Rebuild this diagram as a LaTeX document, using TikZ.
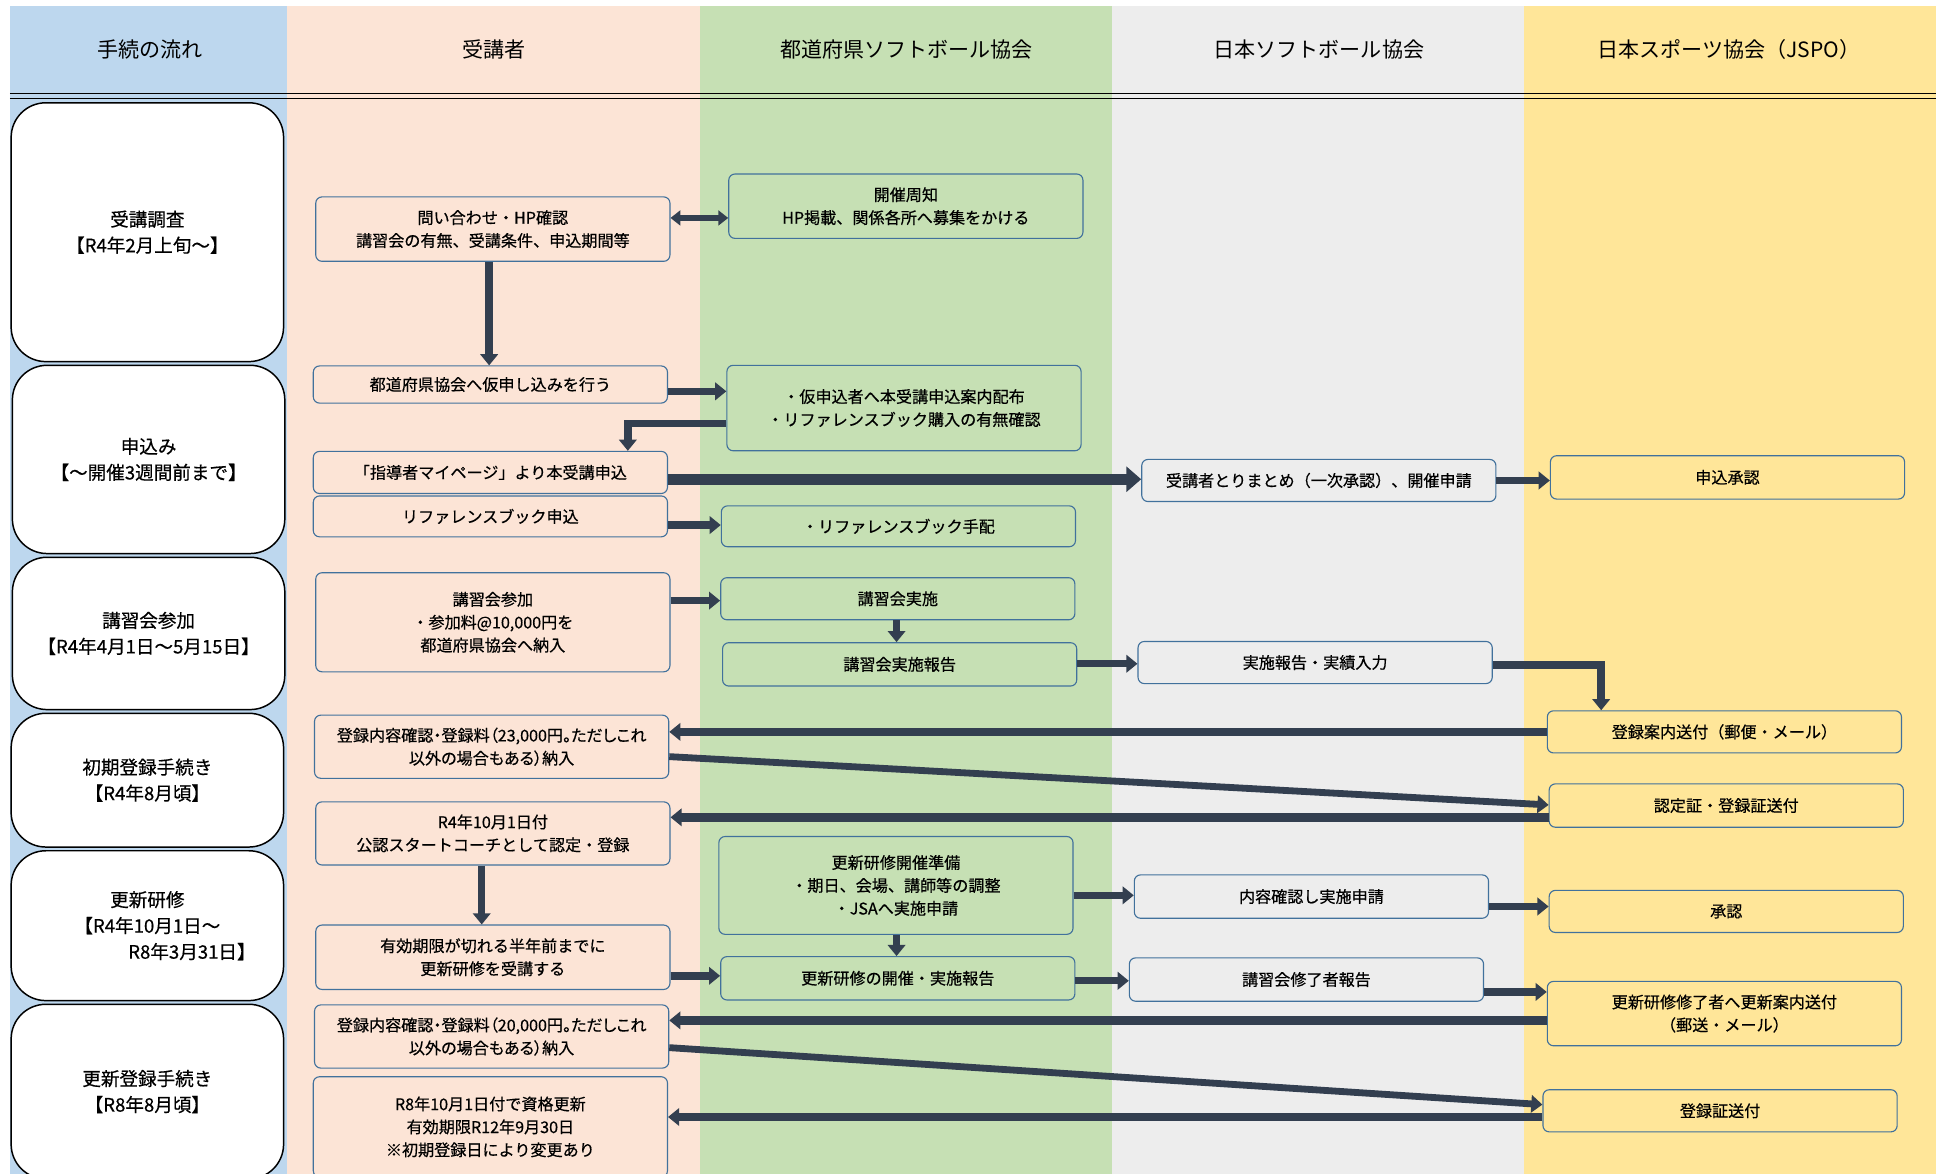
\documentclass[tikz,border=0pt]{standalone}
\usepackage{fontspec}
\setmainfont{Noto Sans CJK JP}
\newfontfamily\boxfont{Noto Sans CJK JP}[FakeBold=0.5]
\newfontfamily\narrowfont{Noto Sans CJK JP}[FakeBold=0.5,RawFeature=+palt]
\usetikzlibrary{arrows.meta}
\definecolor{lanebl}{HTML}{BDD7EE}
\definecolor{lanepk}{HTML}{FCE4D6}
\definecolor{lanegr}{HTML}{C6E0B4}
\definecolor{lanegy}{HTML}{EDEDED}
\definecolor{laneyl}{HTML}{FFE699}
\definecolor{boxblue}{HTML}{41719C}
\definecolor{arrnavy}{HTML}{333F50}
\begin{document}
\begin{tikzpicture}[x=1pt,y=-1pt,
  hdr/.style={font=\fontsize{17}{20}\selectfont},
  phase/.style={draw=black,line width=1.2pt,fill=white,rounded corners=28pt,
    align=center,inner sep=0pt,minimum width=220,font=\boxfont\fontsize{15}{21}\selectfont},
  stepbox/.style={draw=boxblue,line width=0.9pt,rounded corners=5pt,
    align=center,inner sep=0pt,minimum width=286,font=\boxfont\fontsize{13}{18.5}\selectfont},
  arr/.style={draw=arrnavy,line width=6pt,-{Triangle[width=14pt,length=9pt]}},
]
  \useasboundingbox (0,0) rectangle (1565,948);
  % lanes
  \fill[lanebl] (8,5) rectangle (232,948);
  \fill[lanepk] (232,5) rectangle (565,948);
  \fill[lanegr] (565,5) rectangle (898,948);
  \fill[lanegy] (898,5) rectangle (1231,948);
  \fill[laneyl] (1231,5) rectangle (1563,948);
  \draw[line width=1.3pt] (8,75.5) -- (1563,75.5);
  \draw[line width=1.3pt] (8,79.5) -- (1563,79.5);

  \node[hdr] (hd1) at (121,40) {手続の流れ};
  \node[hdr] (hd2) at (399,40) {受講者};
  \node[hdr] (hd3) at (732,40) {都道府県ソフトボール協会};
  \node[hdr] (hd4) at (1065,40) {日本ソフトボール協会};
  \node[hdr] (hd5) at (1396,40) {日本スポーツ協会（JSPO）};

  % phases
  \node[phase,minimum height=209] (ph1) at (119,187.5) {受講調査\\【R4年2月上旬～】};
  \node[phase,minimum height=152] (ph2) at (120,371) {申込み\\【～開催3週間前まで】};
  \node[phase,minimum height=123] (ph3) at (120,511.5) {講習会参加\\【R4年4月1日～5月15日】};
  \node[phase,minimum height=108] (ph4) at (119,630) {初期登録手続き\\【R4年8月頃】};
  \node[phase,minimum height=121] (ph5) at (119,747.5) {更新研修\\【R4年10月1日～\hspace*{60pt}\\\hspace*{72pt}R8年3月31日】};
  \node[phase,minimum height=141] (ph6) at (119,881.5) {更新登録手続き\\【R8年8月頃】};

  % 受講者
  \node[stepbox,minimum height=52] (inquiry) at (398,185) {問い合わせ・HP確認\\講習会の有無、受講条件、申込期間等};
  \node[stepbox,minimum height=30] (prereg) at (396,310.5) {都道府県協会へ仮申し込みを行う};
  \node[stepbox,minimum height=34] (mypage) at (396,381.5) {「指導者マイページ」より本受講申込};
  \node[stepbox,minimum height=33] (refapp) at (396,417) {リファレンスブック申込};
  \node[stepbox,minimum height=80] (attend) at (398,502.5) {講習会参加\\・参加料@10,000円を\\都道府県協会へ納入};
  \node[stepbox,minimum height=51,font=\narrowfont\fontsize{13}{18.5}\selectfont] (regpay) at (397,603) {登録内容確認・登録料（23,000円。ただしこれ\\以外の場合もある）納入};
  \node[stepbox,minimum height=51] (certdate) at (398,673) {R4年10月1日付\\公認スタートコーチとして認定・登録};
  \node[stepbox,minimum height=52] (renewtake) at (398,773) {有効期限が切れる半年前までに\\更新研修を受講する};
  \node[stepbox,minimum height=51,font=\narrowfont\fontsize{13}{18.5}\selectfont] (renewpay) at (397,837) {登録内容確認・登録料（20,000円。ただしこれ\\以外の場合もある）納入};
  \node[stepbox,minimum height=81] (renewed) at (396,910) {R8年10月1日付で資格更新\\有効期限R12年9月30日\\※初期登録日により変更あり};

  % 都道府県ソフトボール協会
  \node[stepbox,minimum height=52] (notice) at (731.5,166.5) {開催周知\\HP掲載、関係各所へ募集をかける};
  \node[stepbox,minimum height=69] (guide) at (730,329.5) {・仮申込者へ本受講申込案内配布\\・リファレンスブック購入の有無確認};
  \node[stepbox,minimum height=33] (refarr) at (725.5,425) {・リファレンスブック手配};
  \node[stepbox,minimum height=34] (course) at (725,483.5) {講習会実施};
  \node[stepbox,minimum height=35] (courserep) at (726.5,536.5) {講習会実施報告};
  \node[stepbox,minimum height=79] (renewprep) at (723.5,715) {更新研修開催準備\\・期日、会場、講師等の調整\\・JSAへ実施申請};
  \node[stepbox,minimum height=35] (renewrep) at (725,790) {更新研修の開催・実施報告};

  % 日本ソフトボール協会
  \node[stepbox,minimum height=34] (collect) at (1065,388) {受講者とりまとめ（一次承認）、開催申請};
  \node[stepbox,minimum height=34] (result) at (1062,535) {実施報告・実績入力};
  \node[stepbox,minimum height=35] (check) at (1059,724) {内容確認し実施申請};
  \node[stepbox,minimum height=35] (finish) at (1055,791) {講習会修了者報告};

  % 日本スポーツ協会
  \node[stepbox,minimum height=35] (approve) at (1395,385.5) {申込承認};
  \node[stepbox,minimum height=34] (reginfo) at (1392.5,591) {登録案内送付（郵便・メール）};
  \node[stepbox,minimum height=35] (cert) at (1394,650.5) {認定証・登録証送付};
  \node[stepbox,minimum height=34] (ok) at (1394,736) {承認};
  \node[stepbox,minimum height=52] (renewinfo) at (1392.5,818.5) {更新研修修了者へ更新案内送付\\（郵送・メール）};
  \node[stepbox,minimum height=34] (regcert) at (1389,897) {登録証送付};

  % arrows
  \draw[arr,line width=5pt,{Triangle[width=12pt,length=8pt]}-{Triangle[width=12pt,length=8pt]}]
    (inquiry.east |- 0,176) -- (notice.west |- 0,176);
  \draw[arr] (inquiry.south -| 395,0) -- (prereg.north -| 395,0);
  \draw[arr] (prereg.east |- 0,316) -- (guide.west |- 0,316);
  \draw[arr] (guide.west |- 0,342) -| (mypage.north -| 507,0);
  \draw[arr,line width=9pt,-{Triangle[width=20pt,length=12pt]}] (mypage.east |- 0,387) -- (collect.west |- 0,387);
  \draw[arr] (collect.east |- 0,388) -- (approve.west |- 0,388);
  \draw[arr] (refapp.east |- 0,424) -- (refarr.west |- 0,424);
  \draw[arr] (attend.east |- 0,485) -- (course.west |- 0,485);
  \draw[arr] (course.south -| 724,0) -- (courserep.north -| 724,0);
  \draw[arr] (courserep.east |- 0,536) -- (result.west |- 0,536);
  \draw[arr] (result.east |- 0,537) -| (reginfo.north -| 1293,0);
  \draw[arr,line width=7pt] (reginfo.west |- 0,591) -- (regpay.east |- 0,591);
  \draw[arr,line width=5.5pt] (regpay.east |- 0,611) -- (cert.west |- 0,650);
  \draw[arr,line width=7pt] (cert.west |- 0,660) -- (certdate.east |- 0,660);
  \draw[arr] (certdate.south -| 389,0) -- (renewtake.north -| 389,0);
  \draw[arr] (renewprep.east |- 0,723) -- (check.west |- 0,723);
  \draw[arr] (check.east |- 0,732) -- (ok.west |- 0,732);
  \draw[arr] (renewprep.south -| 724,0) -- (renewrep.north -| 724,0);
  \draw[arr] (renewtake.east |- 0,788) -- (renewrep.west |- 0,788);
  \draw[arr] (renewrep.east |- 0,792) -- (finish.west |- 0,792);
  \draw[arr] (finish.east |- 0,801) -- (renewinfo.west |- 0,801);
  \draw[arr,line width=7pt] (renewinfo.west |- 0,824) -- (renewpay.east |- 0,824);
  \draw[arr,line width=5.5pt] (renewpay.east |- 0,846) -- (regcert.west |- 0,892);
  \draw[arr,line width=7pt] (regcert.west |- 0,902) -- (renewed.east |- 0,902);
\end{tikzpicture}
\end{document}
